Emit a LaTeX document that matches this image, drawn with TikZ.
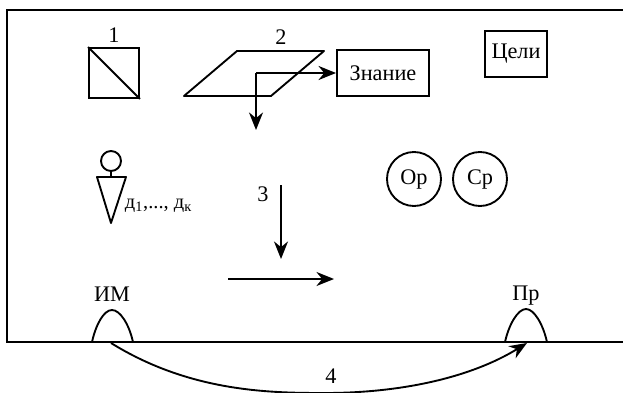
\documentclass[tikz,border=0pt]{standalone}
\usepackage{fontspec}
\setmainfont{Liberation Serif}
\usepackage{tikz}
\usetikzlibrary{arrows.meta,positioning,calc}

\begin{document}
\begin{tikzpicture}[
    x=0.3mm, y=-0.3mm,
    line width=1.6pt,
    box/.style={draw, inner sep=0pt, align=center, font=\fontsize{19}{22}\selectfont},
    ring/.style={draw, circle, minimum size=16.2mm, inner sep=0pt, font=\fontsize{19}{22}\selectfont},
    txt/.style={inner sep=0pt, font=\fontsize{19}{22}\selectfont},
    arr/.style={-{Stealth[length=15pt,width=12pt]}, line width=1.6pt}
]
\useasboundingbox (0,0) rectangle (623,393);

% frame
\coordinate (fl) at (7,10);
\coordinate (bl) at (7,342);
\coordinate (tr) at (623,10);
\coordinate (br) at (623,342);
\draw (tr) -- (fl) -- (bl) -- (br);

% top row
\node[box, minimum size=15mm] (sq) at (114,73) {};
\draw (sq.north west) -- (sq.south east);
\node[txt] (n1) at (114,35) {1};
\coordinate (p1) at (184,96);
\coordinate (p2) at (237,51);
\coordinate (p3) at (324,51);
\coordinate (p4) at (271,96);
\draw[line join=round] (p1) -- (p2) -- (p3) -- (p4) -- cycle;
\node[txt] (n2) at (281,37) {2};
\node[box, minimum width=27.6mm, minimum height=13.8mm] (zn) at (383,73) {Знание};
\node[box, minimum width=18.6mm, minimum height=13.8mm] (goals) at (516,54) {Цели};
\coordinate (corner) at (256,73);
\coordinate (down) at (256,130);
\draw[arr] (corner) -- (zn.west);
\draw[arr] (corner) -- (down);

% person
\node[draw, circle, minimum size=6mm, inner sep=0pt] (head) at (111,161) {};
\coordinate (neck) at (111,177);
\coordinate (t1) at (97,177);
\coordinate (t2) at (126,177);
\coordinate (t3) at (111,223);
\draw (head) -- (neck);
\draw[line join=round] (t1) -- (t2) -- (t3) -- cycle;
\node[txt, anchor=west, font=\fontsize{17.5}{20}\selectfont] (dk) at (124,206) {д\textsubscript{1},..., д\textsubscript{к}};

% middle
\node[txt] (n3) at (263,194) {3};
\node[ring] (or) at (414,179) {Ор};
\node[ring] (cr) at (480,179) {Ср};
\coordinate (a1) at (281,185);
\coordinate (a2) at (281,259);
\draw[arr] (a1) -- (a2);
\coordinate (b1) at (228,279);
\coordinate (b2) at (334,279);
\draw[arr] (b1) -- (b2);

% bottom
\node[txt] (im) at (112,294) {ИМ};
\node[txt] (pr) at (526,296) {Пр};
\coordinate (im1) at (92,342);
\coordinate (im2) at (133,342);
\coordinate (pr1) at (505,342);
\coordinate (pr2) at (547,342);
\draw (im1) .. controls (96,324) and (104,310) .. (112,310) .. controls (120,310) and (129,324) .. (im2);
\draw (pr1) .. controls (509,324) and (518,309) .. (526,309) .. controls (534,309) and (543,324) .. (pr2);
\coordinate (s) at (111,343);
\coordinate (e) at (527,343);
\draw[arr] (s) .. controls (190,392) and (270,393) .. (325,393) .. controls (400,393) and (470,378) .. (e);
\node[txt] (n4) at (331,376) {4};
\end{tikzpicture}
\end{document}
